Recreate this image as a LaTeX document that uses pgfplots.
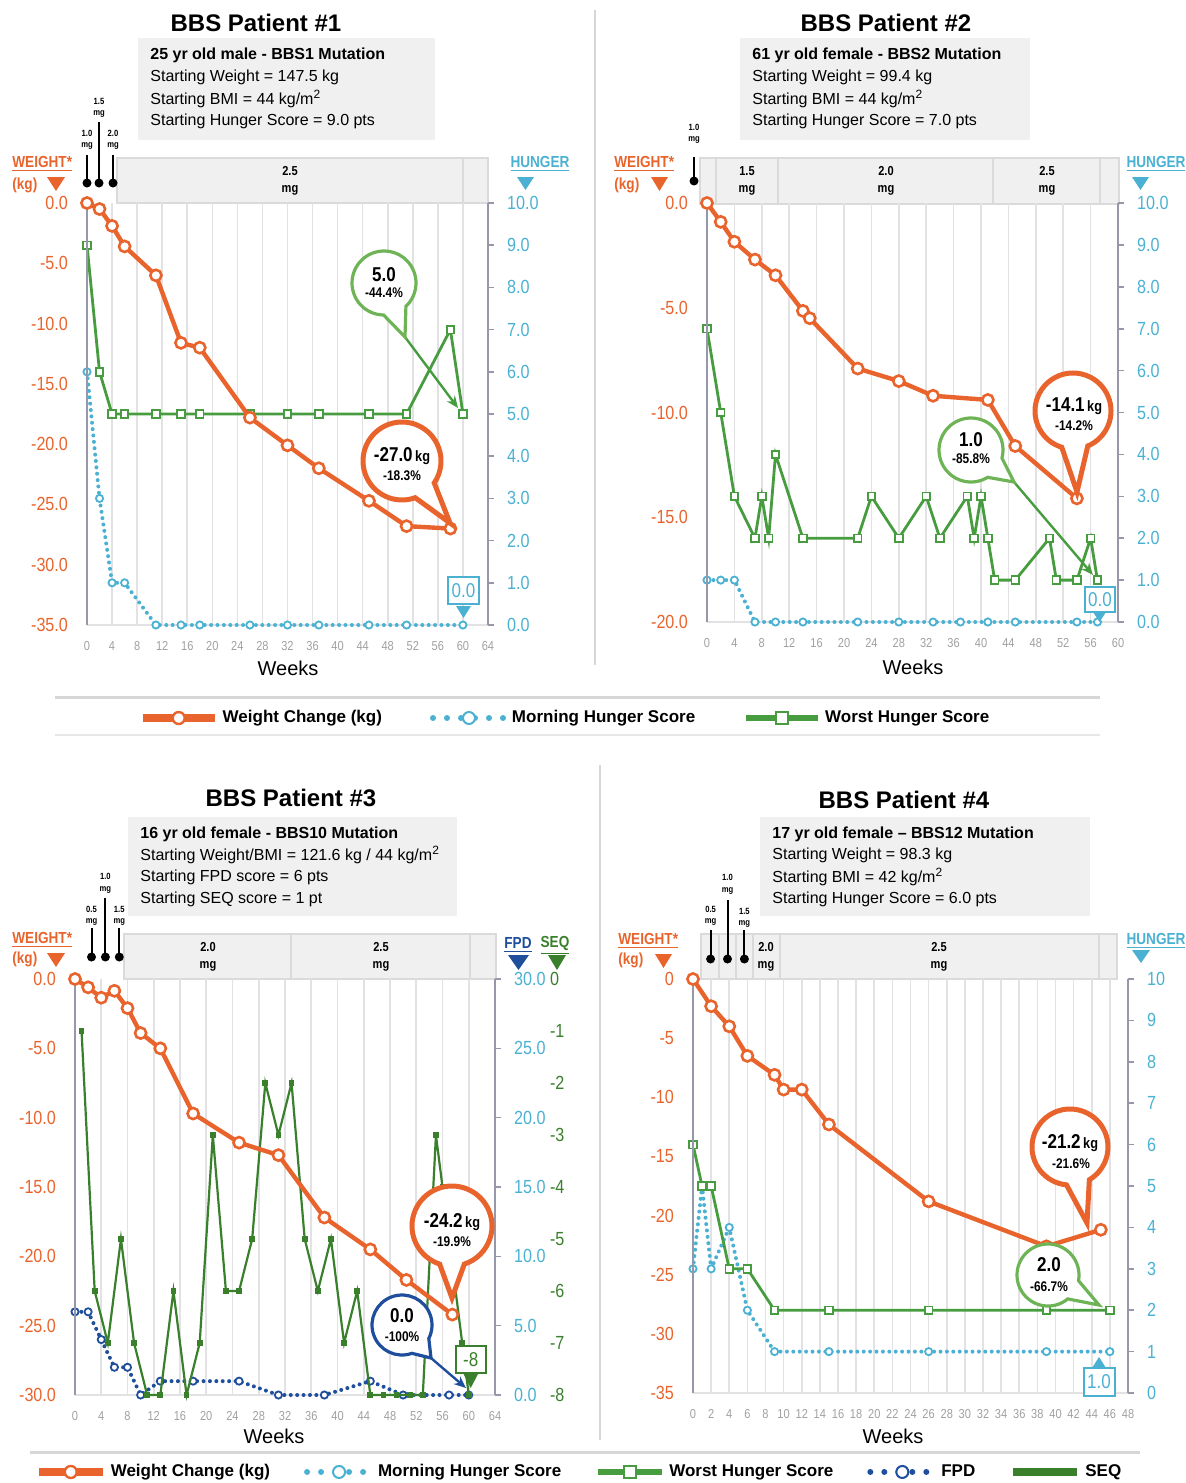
\documentclass[border=0pt]{standalone}
\usepackage{fontspec}
\setmainfont{Liberation Sans}
\newfontfamily\condf{Liberation Sans}[FakeStretch=0.85]
\usepackage{pgfplots}
\pgfplotsset{compat=1.18}
\usetikzlibrary{arrows.meta}

\definecolor{orangeC}{RGB}{233,100,44}
\definecolor{blueC}{RGB}{74,177,211}
\definecolor{greenC}{RGB}{72,156,64}
\definecolor{lgreenC}{RGB}{110,180,86}
\definecolor{dgreenC}{RGB}{58,128,44}
\definecolor{dblueC}{RGB}{30,78,156}
\definecolor{axC}{RGB}{150,152,170}
\definecolor{gridC}{RGB}{226,226,228}
\definecolor{tickC}{RGB}{160,160,160}
\definecolor{boxF}{RGB}{240,240,240}
\definecolor{boxL}{RGB}{218,218,218}
\definecolor{sepC}{RGB}{215,215,215}

\pgfplotsset{
  /pgf/number format/assume math mode=true,
  bottomax/.style={scale only axis, anchor=south west, clip=false,
    axis x line*=bottom, axis y line*=right,
    x axis line style={draw=gridC, line width=0.8pt},
    y axis line style={draw=axC, line width=1pt},
    xmajorgrids, grid style={draw=gridC, line width=0.8pt},
    xtick style={draw=none}, ytick style={draw=axC, line width=0.8pt},
    tick align=outside, major tick length=3pt,
    xticklabel style={font=\condf\fontsize{6.5}{7}\selectfont, text=tickC, yshift=-1.5pt},
    yticklabel style={font=\condf\fontsize{9.5}{10}\selectfont, text=blueC, xshift=3pt},
  },
  topax/.style={scale only axis, anchor=south west, clip=false,
    axis x line=none, axis y line*=left,
    y axis line style={draw=axC, line width=1pt},
    ytick style={draw=none}, major tick length=0pt,
    yticklabel style={font=\condf\fontsize{9.5}{10}\selectfont, text=orangeC, xshift=-6pt},
  },
  fmtone/.style={yticklabel style={/pgf/number format/fixed,/pgf/number format/fixed zerofill,/pgf/number format/precision=1}},
  wline/.style={orangeC, line width=2.2pt, mark=*, mark size=2.8pt, mark options={fill=white, draw=orangeC, line width=1.3pt, solid}},
  gline/.style={greenC, line width=1.4pt, mark=square*, mark size=1.9pt, mark options={fill=white, draw=greenC, line width=0.9pt, solid}},
  dline/.style={#1, line width=2pt, line cap=round, dash pattern=on 0pt off 3.2pt, mark=*, mark size=1.8pt, mark options={fill=white, draw=#1, line width=0.9pt, solid}},
  sline/.style={dgreenC, line width=1.1pt, mark=square*, mark size=0.9pt, mark options={fill=dgreenC, draw=dgreenC, solid}},
}

\tikzset{
  ttl/.style={font=\bfseries\fontsize{12}{14}\selectfont, inner sep=0pt},
  info/.style={font=\fontsize{8}{9}\selectfont, inner sep=0pt, anchor=west},
  dose/.style={font=\bfseries\condf\fontsize{6.5}{8.5}\selectfont, align=center, inner sep=0pt},
  pinl/.style={font=\bfseries\condf\fontsize{4.5}{5.8}\selectfont, align=center, inner sep=0pt},
  hdr/.style={font=\bfseries\condf\fontsize{8}{9}\selectfont, inner sep=0pt},
  wk/.style={font=\fontsize{10}{11}\selectfont, inner sep=0pt},
  bA/.style={font=\bfseries\condf\fontsize{10}{11}\selectfont, inner sep=0pt},
  bB/.style={font=\bfseries\condf\fontsize{7}{8}\selectfont, inner sep=0pt},
  vbox/.style={font=\condf\fontsize{10}{11}\selectfont, inner sep=0pt},
}

\newcommand{\bubble}[7]{%
  \pgfmathsetmacro\bth{atan2((#6)-(#3),(#5)-(#2))}%
  \pgfmathsetmacro\bs{\bth+#7}%
  \pgfmathsetmacro\be{\bth-#7+360}%
  \draw[#1] (#2,#3) ++(\bs:#4) arc[start angle=\bs, end angle=\be, radius=#4] -- (#5,#6) -- cycle;%
}
\newcommand{\pin}[5]{%
  \draw[black, line width=1pt] (#1,#2) -- (#1,#3);
  \fill[black] (#1,#2) circle[radius=4.5];
  \node[pinl] at (#1,#5) {#4\\mg};
}

\begin{document}
\begin{tikzpicture}
\useasboundingbox (0pt,0pt) rectangle (593pt,-741.5pt);

\begin{scope}[x=0.5pt,y=-0.5pt]
% separators and legend rules
\draw[sepC, line width=1pt] (595,10) -- (595,665);
\draw[sepC, line width=1pt] (600,765) -- (600,1440);
\draw[sepC, line width=1.5pt] (55,697) -- (1100,697);
\draw[sepC!60, line width=1pt] (55,735) -- (1100,735);
\draw[sepC, line width=1.5pt] (30,1452) -- (1140,1452);

% ---------- Panel 1 ----------
\node[ttl] at (256,23) {BBS Patient \#1};
\fill[boxF] (138,38) rectangle (435,140);
\node[info] at (150,55) {\bfseries 25 yr old male - BBS1 Mutation};
\node[info] at (150,77) {Starting Weight = 147.5 kg};
\node[info] at (150,99) {Starting BMI = 44 kg/m\textsuperscript{2}};
\node[info] at (150,121) {Starting Hunger Score = 9.0 pts};
\fill[boxF] (117,158) rectangle (488,203);
\draw[boxL, line width=1pt] (117,158) rectangle (488,203) (463,158) -- (463,203);
\node[dose] at (290,181) {2.5\\mg};
\pin{87}{183}{155}{1.0}{140}
\pin{99}{183}{122}{1.5}{108}
\pin{113}{183}{155}{2.0}{140}
\node[hdr, text=orangeC, anchor=west] at (12,164) {\underline{WEIGHT*}};
\node[hdr, text=orangeC, anchor=west] at (12,185) {(kg)};
\fill[orangeC] (47,177) -- (65,177) -- (56,191) -- cycle;
\node[hdr, text=blueC] at (540,164) {\underline{HUNGER}};
\fill[blueC] (517,177) -- (534,177) -- (525.5,190) -- cycle;
\node[wk] at (288,668) {Weeks};

% ---------- Panel 2 ----------
\node[ttl] at (886,23) {BBS Patient \#2};
\fill[boxF] (740,38) rectangle (1030,140);
\node[info] at (752,55) {\bfseries 61 yr old female - BBS2 Mutation};
\node[info] at (752,77) {Starting Weight = 99.4 kg};
\node[info] at (752,99) {Starting BMI = 44 kg/m\textsuperscript{2}};
\node[info] at (752,121) {Starting Hunger Score = 7.0 pts};
\fill[boxF] (700,158) rectangle (1119,204);
\draw[boxL, line width=1pt] (700,158) rectangle (1119,204) (716,158) -- (716,204) (778,158) -- (778,204) (993,158) -- (993,204) (1100,158) -- (1100,204);
\node[dose] at (747,181) {1.5\\mg};
\node[dose] at (886,181) {2.0\\mg};
\node[dose] at (1047,181) {2.5\\mg};
\pin{694}{181}{157}{1.0}{134}
\node[hdr, text=orangeC, anchor=west] at (614,164) {\underline{WEIGHT*}};
\node[hdr, text=orangeC, anchor=west] at (614,185) {(kg)};
\fill[orangeC] (651,177) -- (668,177) -- (659.5,191) -- cycle;
\node[hdr, text=blueC] at (1156,164) {\underline{HUNGER}};
\fill[blueC] (1132,177) -- (1149,177) -- (1140.5,190) -- cycle;
\node[wk] at (913,667) {Weeks};

% ---------- Panel 3 ----------
\node[ttl] at (291,798) {BBS Patient \#3};
\fill[boxF] (128,817) rectangle (457,916);
\node[info] at (140,834) {\bfseries 16 yr old female - BBS10 Mutation};
\node[info] at (140,855) {Starting Weight/BMI = 121.6 kg / 44 kg/m\textsuperscript{2}};
\node[info] at (140,877) {Starting FPD score = 6 pts};
\node[info] at (140,899) {Starting SEQ score = 1 pt};
\fill[boxF] (124,934) rectangle (496,979);
\draw[boxL, line width=1pt] (124,934) rectangle (496,979) (290.5,934) -- (290.5,979) (470,934) -- (470,979);
\node[dose] at (208,957) {2.0\\mg};
\node[dose] at (381,957) {2.5\\mg};
\pin{91.5}{957}{928}{0.5}{916}
\pin{105.4}{957}{898}{1.0}{883}
\pin{119.3}{957}{928}{1.5}{916}
\node[hdr, text=orangeC, anchor=west] at (12,940) {\underline{WEIGHT*}};
\node[hdr, text=orangeC, anchor=west] at (12,959) {(kg)};
\fill[orangeC] (47,953) -- (65,953) -- (56,967) -- cycle;
\node[hdr, text=dblueC] at (518,945) {\underline{FPD}};
\fill[dblueC] (508,955) -- (529,955) -- (518.5,970) -- cycle;
\node[hdr, text=dgreenC] at (555,945) {\underline{SEQ}};
\fill[dgreenC] (548,955) -- (566,955) -- (557,970) -- cycle;
\node[wk] at (274,1436) {Weeks};

% ---------- Panel 4 ----------
\node[ttl] at (904,800) {BBS Patient \#4};
\fill[boxF] (760,817) rectangle (1090,916);
\node[info] at (772,834) {\bfseries 17 yr old female -- BBS12 Mutation};
\node[info] at (772,855) {Starting Weight = 98.3 kg};
\node[info] at (772,877) {Starting BMI = 42 kg/m\textsuperscript{2}};
\node[info] at (772,899) {Starting Hunger Score = 6.0 pts};
\fill[boxF] (700.5,934) rectangle (1117,979);
\draw[boxL, line width=1pt] (700.5,934) rectangle (1117,979) (719,934) -- (719,979) (736,934) -- (736,979) (753,934) -- (753,979) (780,934) -- (780,979) (1099,934) -- (1099,979);
\node[dose] at (766,957) {2.0\\mg};
\node[dose] at (939,957) {2.5\\mg};
\pin{710.6}{959}{930}{0.5}{916}
\pin{727.5}{959}{900}{1.0}{884}
\pin{744.4}{959}{930}{1.5}{918}
\node[hdr, text=orangeC, anchor=west] at (618,941) {\underline{WEIGHT*}};
\node[hdr, text=orangeC, anchor=west] at (618,960) {(kg)};
\fill[orangeC] (655,954) -- (672,954) -- (663.5,968) -- cycle;
\node[hdr, text=blueC] at (1156,941) {\underline{HUNGER}};
\fill[blueC] (1132,950) -- (1150,950) -- (1141,963) -- cycle;
\node[wk] at (893,1436) {Weeks};
\end{scope}

% ================= Panel 1 axes =================
\begin{axis}[bottomax, fmtone, at={(43.5pt,-312.5pt)}, width=200.5pt, height=211pt,
  xmin=0, xmax=64, ymin=0, ymax=10, xtick={0,4,...,64}, ytick={0,1,...,10}]
\addplot[dline=blueC] coordinates {(0,6) (2,3) (4,1) (6,1) (11,0) (15,0) (18,0) (26,0) (32,0) (37,0) (45,0) (51,0) (60,0)};
\addplot[gline] coordinates {(0,9) (2,6) (4,5) (6,5) (11,5) (15,5) (18,5) (26,5) (32,5) (37,5) (45,5) (51,5) (58,7) (60,5)};
\end{axis}
\begin{axis}[topax, fmtone, at={(43.5pt,-312.5pt)}, width=200.5pt, height=211pt,
  xmin=0, xmax=64, ymin=-35, ymax=0, ytick={-35,-30,...,0},
  legend style={at={(axis description cs:1.1945,-0.2204)}, anchor=center, draw=none, fill=none,
    legend columns=-1, font=\bfseries\fontsize{8.5}{10}\selectfont,
    /tikz/every even column/.append style={column sep=22pt}},
  legend image code/.code={\draw[mark repeat=2,mark phase=2,#1] plot coordinates {(0pt,0pt)(18pt,0pt)(36pt,0pt)};}]
\addplot[wline, forget plot] coordinates {(0,0) (2,-0.5) (4,-1.9) (6,-3.6) (11,-6.0) (15,-11.6) (18,-12.0) (26,-17.8) (32,-20.1) (37,-22.0) (45,-24.7) (51,-26.8) (58,-27.0)};
\addlegendimage{orangeC, line width=4pt, mark=*, mark size=3pt, mark options={fill=white, draw=orangeC, line width=1.2pt}}
\addlegendentry{Weight Change (kg)}
\addlegendimage{blueC, line width=3pt, line cap=round, dash pattern=on 0pt off 7pt, mark=*, mark size=3pt, mark options={solid, fill=white, draw=blueC, line width=1pt}}
\addlegendentry{Morning Hunger Score}
\addlegendimage{greenC, line width=3pt, mark=square*, mark size=3pt, mark options={fill=white, draw=greenC, line width=1.2pt}}
\addlegendentry{Worst Hunger Score}
\end{axis}

% ================= Panel 2 axes =================
\begin{axis}[bottomax, fmtone, at={(353.5pt,-311pt)}, width=205.5pt, height=209.5pt,
  xmin=0, xmax=60, ymin=0, ymax=10, xtick={0,4,...,60}, ytick={0,1,...,10}]
\addplot[dline=blueC] coordinates {(0,1) (2,1) (4,1) (7,0) (10,0) (14,0) (22,0) (28,0) (33,0) (37,0) (41,0) (45,0) (54,0) (57,0)};
\addplot[gline] coordinates {(0,7) (2,5) (4,3) (7,2) (8,3) (9,2) (10,4) (14,2) (22,2) (24,3) (28,2) (32,3) (34,2) (38,3) (39,2) (40,3) (41,2) (42,1) (45,1) (50,2) (51,1) (54,1) (56,2) (57,1)};
\end{axis}
\begin{axis}[topax, fmtone, at={(353.5pt,-311pt)}, width=205.5pt, height=209.5pt,
  xmin=0, xmax=60, ymin=-20, ymax=0, ytick={-20,-15,...,0}]
\addplot[wline] coordinates {(0,0) (2,-0.9) (4,-1.85) (7,-2.7) (10,-3.45) (14,-5.15) (15,-5.5) (22,-7.9) (28,-8.5) (33,-9.2) (41,-9.4) (45,-11.6) (54,-14.1)};
\end{axis}

% ================= Panel 3 axes =================
\begin{axis}[bottomax, fmtone, at={(37.5pt,-697.5pt)}, width=210pt, height=208pt,
  xmin=0, xmax=64, ymin=0, ymax=30, xtick={0,4,...,64}, ytick={0,5,...,30}]
\addplot[dline=dblueC] coordinates {(0,6) (2,6) (4,4) (6,2) (8,2) (10,0) (13,1) (18,1) (25,1) (31,0) (38,0) (45,1) (50,0) (57,0) (60,0)};
\end{axis}
\begin{axis}[scale only axis, anchor=south west, clip=false, at={(37.5pt,-697.5pt)}, width=210pt, height=208pt,
  xmin=0, xmax=64, ymin=-8, ymax=0, axis x line=none, axis y line*=right,
  y axis line style={draw=none}, ytick={-8,-7,...,0}, ytick style={draw=none}, major tick length=0pt,
  yticklabel style={font=\condf\fontsize{9.5}{10}\selectfont, text=dgreenC, xshift=24pt}]
\addplot[sline] coordinates {(1,-1) (3,-6) (5,-7) (7,-5) (9,-7) (11,-8) (13,-8) (15,-6) (17,-8) (19,-7) (21,-3) (23,-6) (25,-6) (27,-5) (29,-2) (31,-3) (33,-2) (35,-5) (37,-6) (39,-5) (41,-7) (43,-6) (45,-8) (47,-8) (49,-8) (51,-8) (53,-8) (55,-3) (56,-4) (59,-7) (60,-8)};
\end{axis}
\begin{axis}[topax, fmtone, at={(37.5pt,-697.5pt)}, width=210pt, height=208pt,
  xmin=0, xmax=64, ymin=-30, ymax=0, ytick={-30,-25,...,0},
  legend style={at={(axis description cs:1.2024,-0.185)}, anchor=center, draw=none, fill=none,
    legend columns=-1, font=\bfseries\fontsize{8.5}{10}\selectfont,
    /tikz/every even column/.append style={column sep=15pt}},
  legend image code/.code={\draw[mark repeat=2,mark phase=2,#1] plot coordinates {(0pt,0pt)(16pt,0pt)(32pt,0pt)};}]
\addplot[wline, forget plot] coordinates {(0,0) (2,-0.6) (4,-1.35) (6,-0.85) (8,-2.1) (10,-3.9) (13,-5.0) (18,-9.7) (25,-11.8) (31,-12.7) (38,-17.2) (45,-19.5) (50.5,-21.7) (57.5,-24.2)};
\addlegendimage{orangeC, line width=4pt, mark=*, mark size=3pt, mark options={fill=white, draw=orangeC, line width=1.2pt}}
\addlegendentry{Weight Change (kg)}
\addlegendimage{blueC, line width=3pt, line cap=round, dash pattern=on 0pt off 7pt, mark=*, mark size=3pt, mark options={solid, fill=white, draw=blueC, line width=1pt}}
\addlegendentry{Morning Hunger Score}
\addlegendimage{greenC, line width=3pt, mark=square*, mark size=3pt, mark options={fill=white, draw=greenC, line width=1.2pt}}
\addlegendentry{Worst Hunger Score}
\addlegendimage{dblueC, line width=3pt, line cap=round, dash pattern=on 0pt off 7pt, mark=*, mark size=3pt, mark options={solid, fill=white, draw=dblueC, line width=1pt}}
\addlegendentry{FPD}
\addlegendimage{dgreenC, line width=4pt}
\addlegendentry{SEQ}
\end{axis}

% ================= Panel 4 axes =================
\begin{axis}[bottomax, at={(346.5pt,-696.5pt)}, width=217.5pt, height=207pt,
  xmin=0, xmax=48, ymin=0, ymax=10, xtick={0,2,...,48}, ytick={0,1,...,10}]
\addplot[dline=blueC] coordinates {(0,3) (1,5) (2,3) (4,4) (6,2) (9,1) (15,1) (26,1) (39,1) (46,1)};
\addplot[gline] coordinates {(0,6) (1,5) (2,5) (4,3) (6,3) (9,2) (15,2) (26,2) (39,2) (46,2)};
\end{axis}
\begin{axis}[topax, at={(346.5pt,-696.5pt)}, width=217.5pt, height=207pt,
  xmin=0, xmax=48, ymin=-35, ymax=0, ytick={-35,-30,...,0}]
\addplot[wline] coordinates {(0,0) (2,-2.3) (4,-4.0) (6,-6.5) (9,-8.1) (10,-9.35) (12,-9.35) (15,-12.3) (26,-18.8) (39,-22.6) (45,-21.2)};
\end{axis}

% ================= callouts =================
\begin{scope}[x=0.5pt,y=-0.5pt]
% panel 1
\draw[greenC, line width=1.2pt, -{Stealth[length=6pt,width=5pt]}] (405,337) -- (458,408);
\bubble{lgreenC, line width=1.6pt, fill=white}{384}{283}{32}{405}{337}{22}
\node[bA] at (384,275) {5.0};
\node[bB] at (384,293) {-44.4\%};
\bubble{orangeC, line width=2.5pt, fill=white}{402}{461}{39}{450}{523}{18}
\node[bA] at (402,456) {-27.0{\fontsize{7.5}{8}\selectfont\,kg}};
\node[bB] at (402,476) {-18.3\%};
\draw[blueC, line width=1pt, fill=white] (448,577) rectangle (479,604);
\node[vbox, text=blueC] at (463.5,591) {0.0};
\fill[blueC] (456,606) -- (471,606) -- (463.5,618) -- cycle;
% panel 2
\draw[greenC, line width=1.2pt, -{Stealth[length=6pt,width=5pt]}] (1014,482) -- (1093,575);
\bubble{lgreenC, line width=1.6pt, fill=white}{971}{450}{32}{1014}{482}{22}
\node[bA] at (971,440) {1.0};
\node[bB] at (971,459) {-85.8\%};
\bubble{orangeC, line width=2.5pt, fill=white}{1073}{411}{38}{1077}{492}{20}
\node[bA] at (1074,406) {-14.1{\fontsize{7.5}{8}\selectfont\,kg}};
\node[bB] at (1074,426) {-14.2\%};
\draw[blueC, line width=1pt, fill=white] (1085,587) rectangle (1115,612);
\node[vbox, text=blueC] at (1100,600) {0.0};
\fill[blueC] (1093,612) -- (1106,612) -- (1099.5,622) -- cycle;
% panel 3
\bubble{orangeC, line width=2.5pt, fill=white}{452}{1226}{40}{452}{1298}{18}
\node[bA] at (452,1222) {-24.2{\fontsize{7.5}{8}\selectfont\,kg}};
\node[bB] at (452,1242) {-19.9\%};
\draw[dblueC, line width=1.2pt, -{Stealth[length=6pt,width=5pt]}] (431,1358) -- (466,1388);
\bubble{dblueC, line width=1.6pt, fill=white}{402}{1325}{30}{431}{1358}{22}
\node[bA] at (402,1316) {0.0};
\node[bB] at (402,1337) {-100\%};
\draw[dgreenC, line width=1pt, fill=white] (456,1346) rectangle (485.5,1373);
\node[vbox, text=dgreenC] at (470.7,1360) {-8};
\fill[dgreenC] (463.5,1374) -- (478,1374) -- (470.7,1388) -- cycle;
% panel 4
\bubble{orangeC, line width=2.5pt, fill=white}{1070}{1147}{38}{1087}{1223}{18}
\node[bA] at (1070,1143) {-21.2{\fontsize{7.5}{8}\selectfont\,kg}};
\node[bB] at (1071,1164) {-21.6\%};
\bubble{lgreenC, line width=1.6pt, fill=white}{1048}{1275}{31}{1099}{1305}{20}
\node[bA] at (1049,1265) {2.0};
\node[bB] at (1049,1287) {-66.7\%};
\draw[blueC, line width=1pt, fill=white] (1084,1368) rectangle (1114.5,1396);
\node[vbox, text=blueC] at (1099,1382) {1.0};
\fill[blueC] (1092,1368) -- (1106,1368) -- (1099,1357) -- cycle;
\end{scope}
\end{tikzpicture}
\end{document}
